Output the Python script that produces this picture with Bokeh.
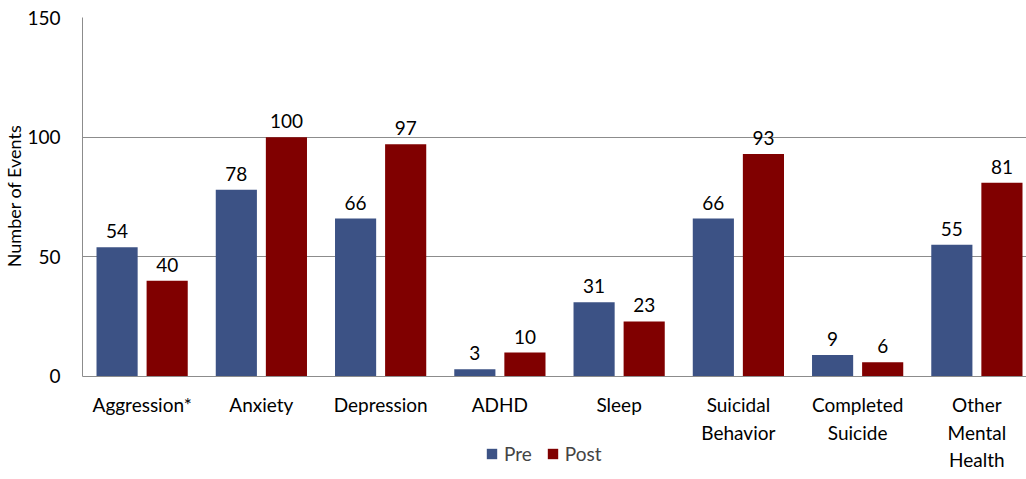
from bokeh.plotting import figure
from bokeh.models import Range1d, FixedTicker, Legend, LegendItem, ColumnDataSource, Title
from bokeh.core.properties import value
from bokeh.embed import file_html
from bokeh.resources import INLINE

categories = ["Aggression*", "Anxiety", "Depression", "ADHD", "Sleep",
              "Suicidal\nBehavior", "Completed\nSuicide", "Other\nMental\nHealth"]
pre = [54, 78, 66, 3, 31, 66, 9, 55]
post = [40, 100, 97, 10, 23, 93, 6, 81]
y_ticks = [0, 50, 100, 150]

FONT = "Lato"
FS = "19px"
PRE_COLOR = "#3C5285"
POST_COLOR = "#800000"
AX_COLOR = "#8C8C8C"

centers = [i + 0.5 for i in range(len(categories))]
dodge = 0.21
bw = 0.345

src_pre = ColumnDataSource(dict(x=[c - dodge for c in centers], top=pre,
                                lbl=[str(v) for v in pre]))
src_post = ColumnDataSource(dict(x=[c + dodge for c in centers], top=post,
                                 lbl=[str(v) for v in post]))

p = figure(width=1026, height=479, output_backend="svg", toolbar_location=None,
           x_range=Range1d(0, 7.916), y_range=Range1d(-43.04, 150),
           min_border_left=80, min_border_right=0, min_border_top=17,
           min_border_bottom=0)
p.outline_line_color = None

r_pre = p.vbar(x="x", top="top", width=bw, source=src_pre, color=PRE_COLOR, line_color=None)
r_post = p.vbar(x="x", top="top", width=bw, source=src_post, color=POST_COLOR, line_color=None)

for src in (src_pre, src_post):
    p.text(x="x", y="top", text="lbl", source=src, text_align="center",
           text_baseline="alphabetic", y_offset=-16, text_font_size=FS,
           text_font=value(FONT), text_color="#000000")

# x axis drawn at y = 0 inside the extended frame
p.xaxis.fixed_location = 0
p.xaxis.ticker = FixedTicker(ticks=centers)
p.xaxis.major_label_overrides = {c: lab for c, lab in zip(centers, categories)}
p.xaxis.major_tick_line_color = None
p.xaxis.minor_tick_line_color = None
p.xaxis.axis_line_color = AX_COLOR
p.xaxis.major_label_text_font = FONT
p.xaxis.major_label_text_font_size = FS
p.xaxis.major_label_text_color = "#000000"
p.xaxis.major_label_standoff = 11
p.xaxis.major_label_text_line_height = 1.18

p.yaxis.ticker = FixedTicker(ticks=y_ticks)
p.yaxis.bounds = (0, 150)
p.yaxis.major_tick_line_color = None
p.yaxis.minor_tick_line_color = None
p.yaxis.axis_line_color = AX_COLOR
p.yaxis.major_label_text_font = FONT
p.yaxis.major_label_text_font_size = FS
p.yaxis.major_label_text_color = "#000000"
p.yaxis.major_label_standoff = 16

# y-axis title, centred on the 0..150 span
ytitle = Title(text="Number of Events", align="right", offset=107,
               text_font=FONT, text_font_size="18px", text_font_style="normal",
               text_color="#000000", standoff=0)
p.add_layout(ytitle, "left")

p.xgrid.grid_line_color = None
p.ygrid.grid_line_color = AX_COLOR
p.ygrid.grid_line_width = 1

legend = Legend(items=[LegendItem(label="Pre", renderers=[r_pre]),
                       LegendItem(label="Post", renderers=[r_post])],
                orientation="horizontal", location=(403, 14),
                border_line_color=None, background_fill_alpha=0,
                label_text_font=FONT, label_text_font_size=FS,
                glyph_width=13, glyph_height=13, spacing=14, label_standoff=6,
                padding=0, margin=0)
p.add_layout(legend, "center")

open("out.html", "w").write(file_html(p, INLINE))
